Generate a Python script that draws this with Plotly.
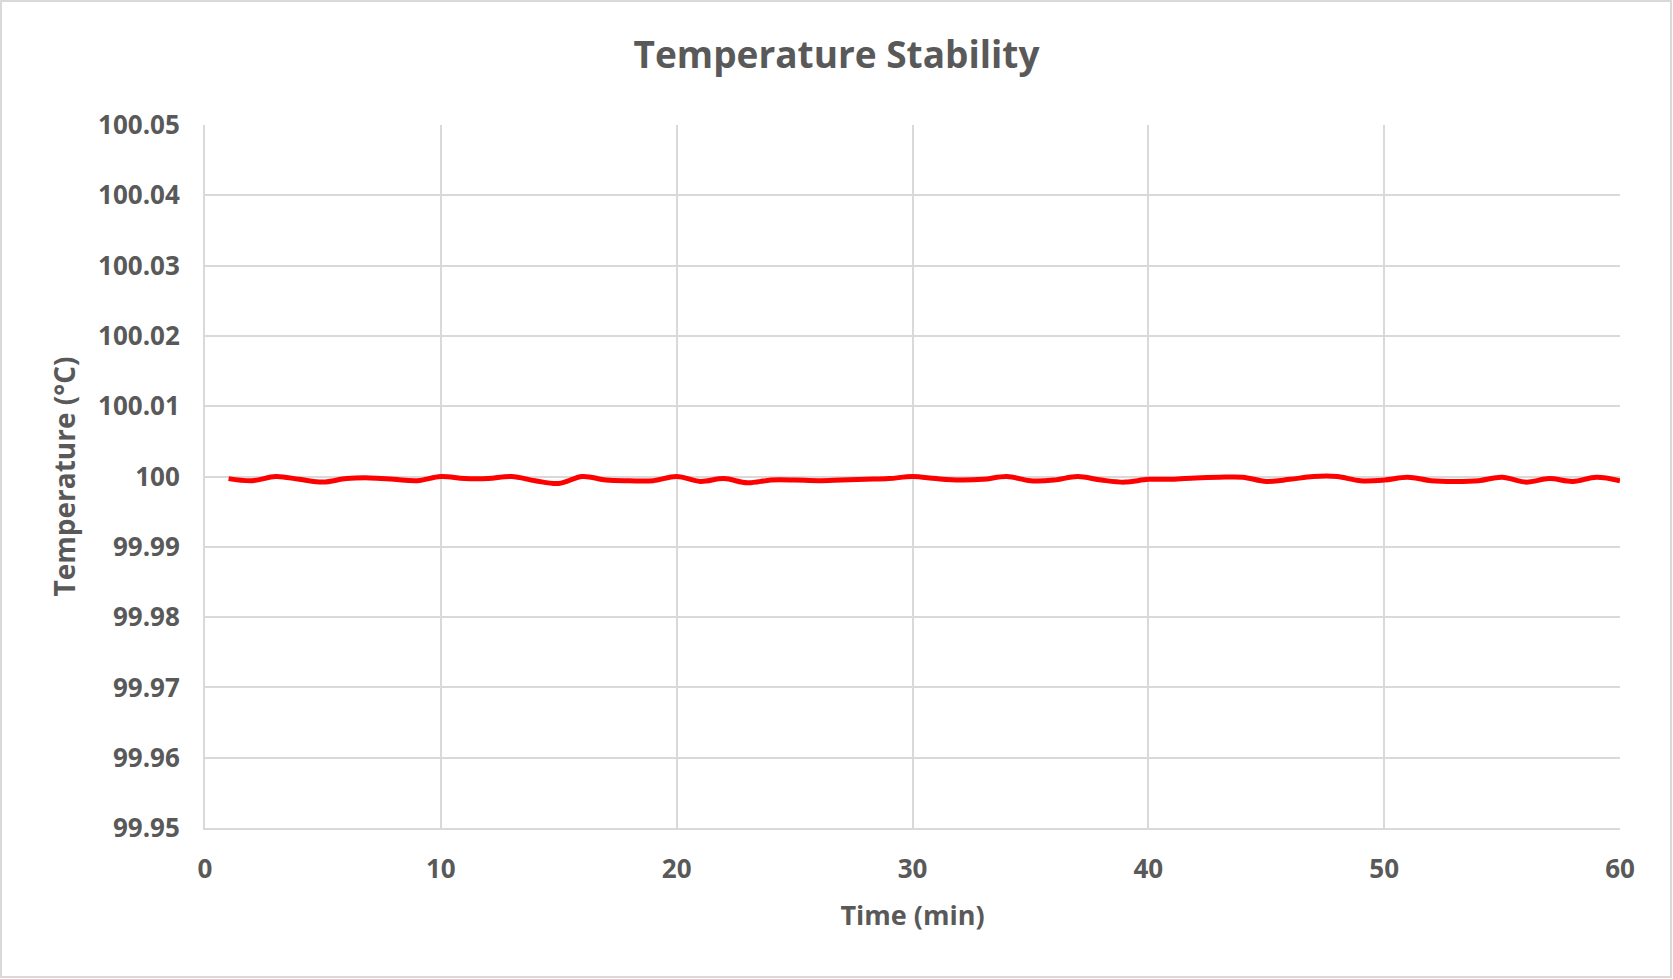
import plotly.graph_objects as go

# Data
time_min = list(range(1, 61))
temperature = [
    99.9997, 99.9994, 100.0000, 99.9996, 99.9992, 99.9997, 99.9998, 99.9996, 99.9994, 100.0000,
    99.9997, 99.9997, 100.0000, 99.9994, 99.9990, 100.0000, 99.9995, 99.9994, 99.9994, 100.0000,
    99.9993, 99.9997, 99.9991, 99.9995, 99.9995, 99.9994, 99.9995, 99.9996, 99.9997, 100.0000,
    99.9997, 99.9995, 99.9996, 100.0000, 99.9994, 99.9995, 100.0000, 99.9995, 99.9992, 99.9996,
    99.9996, 99.9998, 99.9999, 99.9999, 99.9993, 99.9996, 100.0000, 100.0000, 99.9994, 99.9995,
    99.9999, 99.9994, 99.9993, 99.9994, 99.9999, 99.9992, 99.9997, 99.9993, 99.9999, 99.9994,
]
y_tick_vals = [99.95, 99.96, 99.97, 99.98, 99.99, 100.0, 100.01, 100.02, 100.03, 100.04, 100.05]
y_tick_text = ["99.95", "99.96", "99.97", "99.98", "99.99", "100", "100.01", "100.02", "100.03", "100.04", "100.05"]
x_tick_vals = [0, 10, 20, 30, 40, 50, 60]

W, H = 1673, 979
ML, MR, MT, MB = 205, 53, 125, 151
PW, PH = W - ML - MR, H - MT - MB

gray = "#595959"
grid = "#D9D9D9"
font_family = "Open Sans, Liberation Sans, Arial, sans-serif"

fig = go.Figure()
fig.add_trace(go.Scatter(
    x=time_min, y=temperature, mode="lines",
    line=dict(color="#FF0000", width=5, shape="spline"),
    showlegend=False, hoverinfo="x+y",
))

fig.update_layout(
    width=W, height=H,
    margin=dict(l=ML, r=MR, t=MT, b=MB),
    paper_bgcolor="white", plot_bgcolor="white",
    title=dict(
        text="Temperature Stability", x=0.5, xanchor="center",
        y=1 - 55 / H, yanchor="middle",
        font=dict(family=font_family, size=37, color=gray, weight="bold"),
    ),
    font=dict(family=font_family, color=gray),
    xaxis=dict(
        range=[0, 60], tickvals=x_tick_vals,
        showgrid=True, gridcolor=grid, gridwidth=2,
        showline=True, linecolor=grid, linewidth=2,
        zeroline=False, ticks="", ticklabelstandoff=17,
        tickfont=dict(family=font_family, size=26, color=gray, weight="bold"),
        title=dict(text="Time (min)", standoff=21,
                   font=dict(family=font_family, size=27, color=gray, weight="bold")),
    ),
    yaxis=dict(
        range=[99.95, 100.05], tickvals=y_tick_vals, ticktext=y_tick_text,
        showgrid=True, gridcolor=grid, gridwidth=2,
        showline=True, linecolor=grid, linewidth=2, mirror=False,
        zeroline=False, ticks="", ticklabelstandoff=18,
        tickfont=dict(family=font_family, size=26, color=gray, weight="bold"),
        title=dict(text="Temperature (°C)", standoff=14,
                   font=dict(family=font_family, size=28, color=gray, weight="bold")),
    ),
)

# Outer chart-area border
fig.add_shape(
    type="rect", xref="paper", yref="paper",
    x0=-(ML - 1) / PW, x1=1 + (MR - 2) / PW,
    y0=-(MB - 2) / PH, y1=1 + (MT - 1) / PH,
    line=dict(color="#D9D9D9", width=2), fillcolor="rgba(0,0,0,0)", layer="below",
)

fig.write_html(
    "out.html",
    config={"displayModeBar": False},
    post_script="document.body.style.margin='0';document.body.style.overflow='hidden';",
)
